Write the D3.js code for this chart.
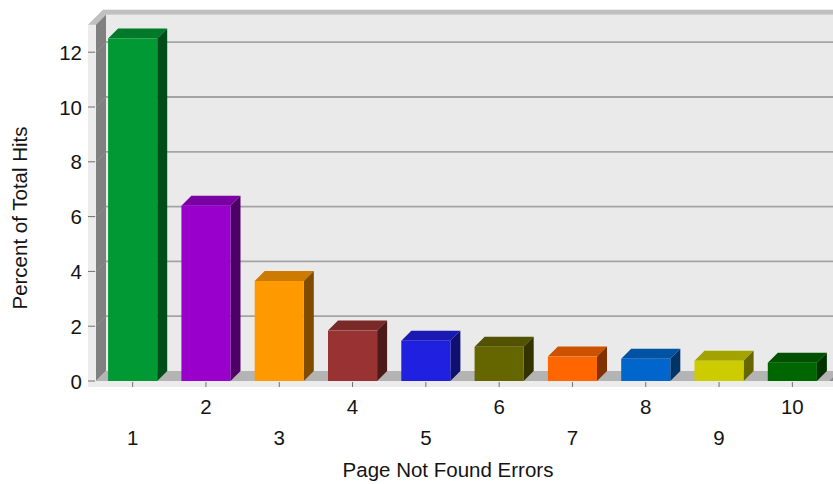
<!DOCTYPE html>
<html>
<head>
<meta charset="utf-8">
<script src="https://cdn.jsdelivr.net/npm/d3@7/dist/d3.min.js"></script>
<style>
  html, body { margin: 0; padding: 0; background: #ffffff; }
  svg { display: block; }
  text { font-family: "Liberation Sans", Arial, sans-serif; fill: #141414; }
</style>
</head>
<body>
<svg id="chart" width="833" height="484"></svg>
<script>
// Share of total hits for the ten most frequent "page not found" errors
const categories = ["1", "2", "3", "4", "5", "6", "7", "8", "9", "10"];
const values = [12.5, 6.4, 3.65, 1.84, 1.47, 1.25, 0.89, 0.81, 0.74, 0.67];
const barColors = ["#009933", "#9900cc", "#ff9900", "#993333", "#2020e0",
                   "#666600", "#ff6600", "#0066cc", "#cccc00", "#006600"];
const yTicks = [0, 2, 4, 6, 8, 10, 12];
const yMax = 13;
const xTitle = "Page Not Found Errors";
const yTitle = "Percent of Total Hits";

const svg = d3.select("#chart");
const W = 833;
const fontSize = 20.5;

// front plane of the 3D box and its depth offset
const left = 96, right = 829, zero = 381;
const depthX = 10, depthY = 10;

const x = d3.scaleBand()
  .domain(categories)
  .range([left, right])
  .paddingInner(0.33)
  .paddingOuter(0.165);

const y = d3.scaleLinear()
  .domain([0, yMax])
  .range([zero, zero - yMax * 27.4]);

const wallTop = y(yMax);

// light frame around the box
svg.append("polygon")
  .attr("points", [[88, zero + 6], [88, wallTop], [88 + 15, wallTop - 15], [W, wallTop - 15], [W, zero + 6]].join(" "))
  .attr("fill", "#ececec");

// top rim
svg.append("polygon")
  .attr("points", [[88, wallTop], [88 + 15, wallTop - 15], [W, wallTop - 15], [W, wallTop - depthY],
                   [left + depthX, wallTop - depthY], [left, wallTop]].join(" "))
  .attr("fill", "#c0c0c0");

// back wall
svg.append("rect")
  .attr("x", left + depthX).attr("y", wallTop - depthY)
  .attr("width", W - left - depthX).attr("height", zero - wallTop)
  .attr("fill", "#eaeaea");

// grid lines on the back wall
svg.append("g").selectAll("line")
  .data(yTicks.filter(d => d > 0))
  .join("line")
  .attr("x1", left + depthX).attr("x2", W)
  .attr("y1", d => y(d) - depthY).attr("y2", d => y(d) - depthY)
  .attr("stroke", "#a4a4a4").attr("stroke-width", 1.8);

// left wall
svg.append("polygon")
  .attr("points", [[left, zero], [left, wallTop], [left + depthX, wallTop - depthY], [left + depthX, zero - depthY]].join(" "))
  .attr("fill", "#808080");

// grid lines across the left wall
svg.append("g").selectAll("line")
  .data(yTicks.filter(d => d > 0))
  .join("line")
  .attr("x1", left).attr("x2", left + depthX)
  .attr("y1", d => y(d)).attr("y2", d => y(d) - depthY)
  .attr("stroke", "#8f8f8f").attr("stroke-width", 1);

// floor
svg.append("polygon")
  .attr("points", [[left, zero], [left + depthX, zero - depthY], [right + depthX, zero - depthY], [right, zero]].join(" "))
  .attr("fill", "#b4b4b4");
svg.append("polygon")
  .attr("points", [[right, zero], [right + depthX, zero - depthY], [right + depthX, zero]].join(" "))
  .attr("fill", "#8a8a8a");

// bars: front face, top and right side
const shade = (c, k) => { const r = d3.rgb(c); return d3.rgb(r.r * k, r.g * k, r.b * k).formatHex(); };
const bars = svg.append("g").selectAll("g")
  .data(values.map((v, i) => ({ cat: categories[i], v, c: barColors[i] })))
  .join("g");

bars.append("polygon")
  .attr("points", d => {
    const x0 = x(d.cat), x1 = x0 + x.bandwidth(), yt = y(d.v);
    return [[x0, yt], [x0 + depthX, yt - depthY], [x1 + depthX, yt - depthY], [x1, yt]].join(" ");
  })
  .attr("fill", d => shade(d.c, 0.8));

bars.append("polygon")
  .attr("points", d => {
    const x1 = x(d.cat) + x.bandwidth(), yt = y(d.v);
    return [[x1, yt], [x1 + depthX, yt - depthY], [x1 + depthX, zero - depthY], [x1, zero]].join(" ");
  })
  .attr("fill", d => shade(d.c, 0.5));

bars.append("rect")
  .attr("x", d => x(d.cat))
  .attr("y", d => y(d.v))
  .attr("width", x.bandwidth())
  .attr("height", d => zero - y(d.v))
  .attr("fill", d => d.c);

// y axis ticks and labels
const yAxis = svg.append("g");
yAxis.selectAll("line")
  .data(yTicks)
  .join("line")
  .attr("x1", 88).attr("x2", 95)
  .attr("y1", d => y(d)).attr("y2", d => y(d))
  .attr("stroke", "#707070");
yAxis.selectAll("text")
  .data(yTicks)
  .join("text")
  .attr("x", 82).attr("y", d => y(d))
  .attr("text-anchor", "end")
  .attr("dominant-baseline", "central")
  .attr("font-size", fontSize)
  .text(d => d);

// x axis ticks and staggered labels
const xAxis = svg.append("g");
xAxis.selectAll("line")
  .data(categories)
  .join("line")
  .attr("x1", d => x(d) + x.bandwidth() / 2).attr("x2", d => x(d) + x.bandwidth() / 2)
  .attr("y1", zero + 1).attr("y2", zero + 6)
  .attr("stroke", "#707070");
xAxis.selectAll("text")
  .data(categories)
  .join("text")
  .attr("x", d => x(d) + x.bandwidth() / 2)
  .attr("y", (d, i) => i % 2 === 0 ? 437 : 406)
  .attr("text-anchor", "middle")
  .attr("dominant-baseline", "central")
  .attr("font-size", fontSize)
  .text(d => d);

// axis titles
svg.append("text")
  .attr("x", 448).attr("y", 469)
  .attr("text-anchor", "middle")
  .attr("dominant-baseline", "central")
  .attr("font-size", fontSize)
  .text(xTitle);

svg.append("text")
  .attr("transform", "translate(19,218) rotate(-90)")
  .attr("text-anchor", "middle")
  .attr("dominant-baseline", "central")
  .attr("font-size", fontSize)
  .text(yTitle);
</script>
</body>
</html>
